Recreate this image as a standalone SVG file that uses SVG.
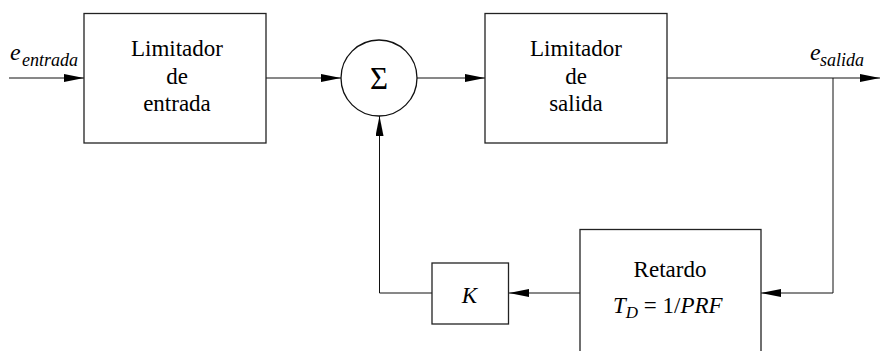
<svg xmlns="http://www.w3.org/2000/svg" width="880" height="351" viewBox="0 0 880 351">
<style>
.box{fill:#fff;stroke:#222;stroke-width:1.3}
.ln{fill:none;stroke:#111;stroke-width:1}
text{font-family:"Liberation Serif",Tinos,"Times New Roman",Times,"Noto Serif","DejaVu Serif",serif;fill:#000}
.t{font-size:23px;text-anchor:middle}
.it{font-style:italic}
</style>
<defs>
<marker id="ah" markerWidth="20" markerHeight="8" refX="20" refY="4" orient="auto" markerUnits="userSpaceOnUse">
<path d="M0,0 L20,4 L0,8 Z" fill="#000"/>
</marker>
</defs>
<g id="connectors">
<line class="ln" x1="9" y1="78" x2="84" y2="78" marker-end="url(#ah)"/>
<line class="ln" x1="266" y1="78" x2="341" y2="78" marker-end="url(#ah)"/>
<line class="ln" x1="417" y1="78" x2="485" y2="78" marker-end="url(#ah)"/>
<line class="ln" x1="667" y1="78" x2="880" y2="78" marker-end="url(#ah)"/>
<polyline class="ln" points="833,78 833,293 761,293" marker-end="url(#ah)"/>
<line class="ln" x1="580" y1="293" x2="509" y2="293" marker-end="url(#ah)"/>
<polyline class="ln" points="432,293 379.5,293 379.5,116" marker-end="url(#ah)"/>
</g>
<g id="lbl-in">
<text class="it" x="10" y="60" font-size="24">e</text>
<text class="it" x="22" y="66" font-size="18">entrada</text>
</g>
<g id="lbl-out">
<text class="it" x="810" y="60" font-size="24">e</text>
<text class="it" x="820" y="66" font-size="18">salida</text>
</g>
<g id="lim-entrada">
<rect class="box" x="84" y="13.5" width="182" height="129.5"/>
<text class="t" x="177" y="56">Limitador</text>
<text class="t" x="177" y="83.5">de</text>
<text class="t" x="177" y="111">entrada</text>
</g>
<g id="sum">
<circle cx="379" cy="78" r="38" fill="#fff" stroke="#111" stroke-width="1.3"/>
<text class="t" x="379" y="89" style="font-size:31px">Σ</text>
</g>
<g id="lim-salida">
<rect class="box" x="485" y="13.5" width="182" height="129.5"/>
<text class="t" x="576" y="56">Limitador</text>
<text class="t" x="576" y="83.5">de</text>
<text class="t" x="576" y="111">salida</text>
</g>
<g id="retardo">
<rect class="box" x="580" y="229.5" width="181" height="130"/>
<text class="t" x="670" y="277">Retardo</text>
<text x="613" y="313" font-size="23"><tspan font-style="italic">T</tspan><tspan font-style="italic" font-size="17" dy="5">D</tspan><tspan dy="-5"> = 1/</tspan><tspan font-style="italic">PRF</tspan></text>
</g>
<g id="k">
<rect class="box" x="432" y="263" width="76.5" height="61"/>
<text class="it" x="469.5" y="302.5" font-size="23" text-anchor="middle">K</text>
</g>
</svg>
